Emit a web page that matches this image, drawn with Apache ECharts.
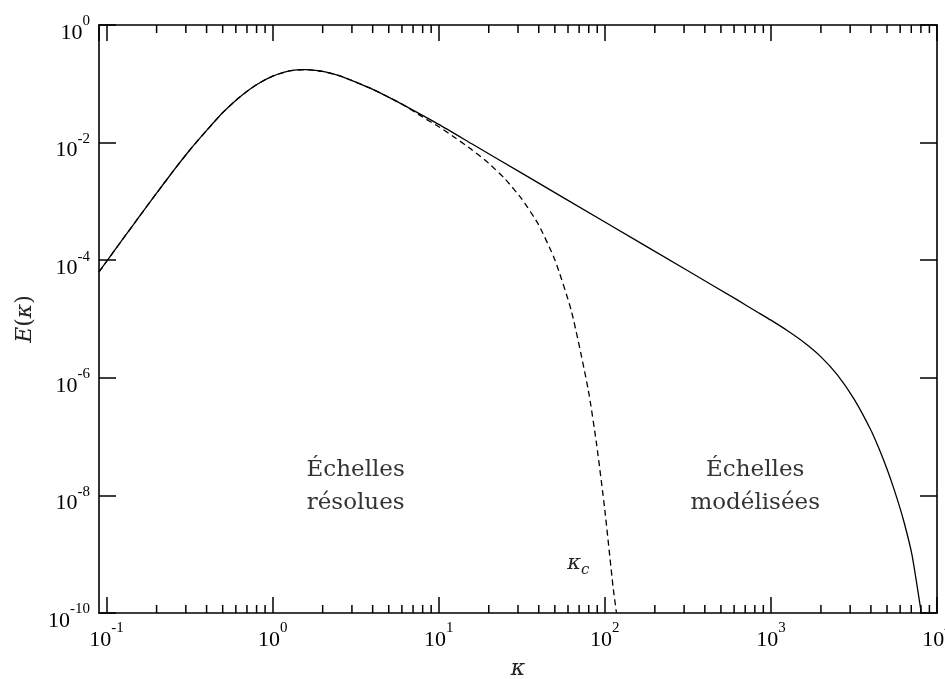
<!DOCTYPE html>
<html><head><meta charset="utf-8">
<script src="https://cdn.jsdelivr.net/npm/echarts@6/dist/echarts.min.js"></script>
<style>html,body{margin:0;padding:0;background:#fff}#c{width:945px;height:679px}</style>
</head><body><div id="c"></div>
<script>
// Solid curve: full spectrum E(kappa)
const kSolid = [0.09, 0.1, 0.126, 0.158, 0.2, 0.251, 0.316, 0.398, 0.501, 0.631, 0.794, 1, 1.26, 1.58, 2.0, 2.51, 3.16, 3.98, 5.01, 6.31, 10, 15.8, 31.6, 100, 316, 631, 794, 1000, 1259, 1585, 1995, 2512, 3162, 3981, 4467, 5012, 5623, 6310, 7079, 7943, 8035];
const eSolid = [6.31e-5, 9.55e-5, 2.34e-4, 5.62e-4, 1.38e-3, 3.24e-3, 7.41e-3, 1.58e-2, 3.24e-2, 5.89e-2, 9.55e-2, 0.135, 0.166, 0.174, 0.162, 0.138, 0.107, 8.13e-2, 5.89e-2, 4.17e-2, 2.04e-2, 9.55e-3, 3.02e-3, 4.47e-4, 6.61e-5, 2.09e-5, 1.41e-5, 9.55e-6, 6.31e-6, 3.98e-6, 2.29e-6, 1.12e-6, 4.37e-7, 1.32e-7, 6.31e-8, 2.75e-8, 1.07e-8, 3.63e-9, 9.55e-10, 1.26e-10, 1.0e-10];
// Dashed curve: resolved (filtered) spectrum
const kDashed = [0.09, 0.1, 0.126, 0.158, 0.2, 0.251, 0.316, 0.398, 0.501, 0.631, 0.794, 1, 1.26, 1.58, 2.0, 2.51, 3.16, 3.98, 5.01, 6.31, 7.94, 10, 12.6, 15.8, 19.95, 25.1, 31.6, 39.8, 50.1, 63.1, 79.4, 89.1, 100, 112, 117.5];
const eDashed = [6.31e-5, 9.55e-5, 2.34e-4, 5.62e-4, 1.38e-3, 3.24e-3, 7.41e-3, 1.58e-2, 3.24e-2, 5.89e-2, 9.55e-2, 0.135, 0.166, 0.174, 0.162, 0.138, 0.107, 8.13e-2, 5.89e-2, 4.17e-2, 2.75e-2, 1.86e-2, 1.20e-2, 7.59e-3, 4.47e-3, 2.40e-3, 1.10e-3, 4.07e-4, 1.0e-4, 1.32e-5, 6.31e-7, 7.59e-8, 5.62e-9, 2.82e-10, 1.0e-10];
// Axis ranges and tick labels
const xRange = [0.09, 10000];
const yRange = [1e-10, 1];
const xTickExponents = [-1, 0, 1, 2, 3, 4];
const yTickExponents = [0, -2, -4, -6, -8, -10];
const minorTickK = [];
for (const d of [0.1, 1, 10, 100, 1000]) for (let m = 2; m <= 9; m++) minorTickK.push(+(d * m).toPrecision(3));
// Annotations
const annoText = ['Échelles\nrésolues', 'Échelles\nmodélisées'];
const annoK = [3.16, 804];
const annoE = [1.41e-8, 1.41e-8];
const kcK = 69.2, kcE = 6.5e-10;

function powLabel(v) {
  const l = Math.log10(v), e = Math.round(l);
  if (Math.abs(l - e) > 1e-6) return '';
  if (xTickExponents.indexOf(e) < 0 && yTickExponents.indexOf(e) < 0) return '';
  return '{b|10}{s|' + e + '}';
}
const labelRich = {
  b: {fontFamily: 'Liberation Serif', fontSize: 22, color: '#000', lineHeight: 30, verticalAlign: 'bottom'},
  s: {fontFamily: 'Liberation Serif', fontSize: 15, color: '#000', lineHeight: 14, verticalAlign: 'top'}
};
const axisLineStyle = {color: '#000', width: 1.6};

const chart = echarts.init(document.getElementById('c'), null, {renderer: 'canvas'});
const option = {
  animation: false,
  backgroundColor: '#fff',
  grid: {left: 99, right: 8, top: 25, bottom: 66, containLabel: false, outerBoundsMode: 'none'},
  xAxis: [
    {type: 'log', logBase: 10, min: xRange[0], max: xRange[1], position: 'bottom',
     axisLine: {show: true, lineStyle: axisLineStyle},
     axisTick: {show: true, inside: true, length: 16, lineStyle: {color: '#000', width: 1.5}},
     axisLabel: {show: true, margin: 8, formatter: powLabel, rich: labelRich, showMinLabel: false, hideOverlap: false},
     splitLine: {show: false}, minorTick: {show: false},
     name: '{i|κ}', nameLocation: 'middle', nameGap: 45,
     nameTextStyle: {rich: {i: {fontFamily: 'DejaVu Serif', fontStyle: 'italic', fontSize: 22, color: '#222'}}}},
    {type: 'log', logBase: 10, min: xRange[0], max: xRange[1], position: 'top',
     axisLine: {show: true, lineStyle: axisLineStyle},
     axisTick: {show: true, inside: true, length: 16, lineStyle: {color: '#000', width: 1.5}},
     axisLabel: {show: false}, splitLine: {show: false}}
  ],
  yAxis: [
    {type: 'log', logBase: 10, min: yRange[0], max: yRange[1], interval: 2, position: 'left',
     axisLine: {show: true, lineStyle: axisLineStyle},
     axisTick: {show: true, inside: true, length: 17, lineStyle: {color: '#000', width: 1.5}},
     axisLabel: {show: true, margin: 9, formatter: powLabel, rich: labelRich, padding: [8, 0, 0, 0]},
     splitLine: {show: false},
     name: '{i|E}{n|(}{i|κ}{n|)}', nameLocation: 'middle', nameGap: 63, nameRotate: 90,
     nameTextStyle: {rich: {
       i: {fontFamily: 'DejaVu Serif', fontStyle: 'italic', fontSize: 22, color: '#222'},
       n: {fontFamily: 'DejaVu Serif', fontSize: 22, color: '#222'}}}},
    {type: 'log', logBase: 10, min: yRange[0], max: yRange[1], interval: 2, position: 'right',
     axisLine: {show: true, lineStyle: axisLineStyle},
     axisTick: {show: true, inside: true, length: 17, lineStyle: {color: '#000', width: 1.5}},
     axisLabel: {show: false}, splitLine: {show: false}}
  ],
  series: [
    {name: 'E', type: 'line', xAxisIndex: 0, yAxisIndex: 0, showSymbol: false, smooth: 0.2,
     data: kSolid.map((k, i) => [k, eSolid[i]]),
     lineStyle: {color: '#000', width: 1.3}, z: 3},
    {name: 'E resolved', type: 'line', xAxisIndex: 0, yAxisIndex: 0, showSymbol: false, smooth: 0.2,
     data: kDashed.map((k, i) => [k, eDashed[i]]),
     lineStyle: {color: '#000', width: 1.3, type: [6, 4]}, z: 4},
    {name: 'minor ticks', type: 'custom', xAxisIndex: 0, yAxisIndex: 0, silent: true,
     data: minorTickK.map(k => [k, yRange[0]]),
     renderItem: function (params, api) {
       const k = api.value(0);
       const pb = api.coord([k, yRange[0]]);
       const pt = api.coord([k, yRange[1]]);
       const st = {stroke: '#000', lineWidth: 1.5};
       return {type: 'group', children: [
         {type: 'line', shape: {x1: pb[0], y1: pb[1], x2: pb[0], y2: pb[1] - 8}, style: st},
         {type: 'line', shape: {x1: pt[0], y1: pt[1], x2: pt[0], y2: pt[1] + 8}, style: st}
       ]};
     }, z: 5},
    {name: 'annotations', type: 'scatter', xAxisIndex: 0, yAxisIndex: 0, symbolSize: 0, silent: true,
     itemStyle: {opacity: 1},
     data: annoText.map((t, i) => ({value: [annoK[i], annoE[i]], name: t})),
     label: {show: true, position: 'inside', formatter: p => p.name, opacity: 1,
       fontFamily: 'DejaVu Serif', fontSize: 23, lineHeight: 33, color: '#333', align: 'center'}},
    {name: 'kc', type: 'scatter', xAxisIndex: 0, yAxisIndex: 0, symbolSize: 0, silent: true,
     itemStyle: {opacity: 1},
     data: [[kcK, kcE]],
     label: {show: true, position: 'inside', formatter: '{k|κ}{c|c}', opacity: 1,
       rich: {
         k: {fontFamily: 'DejaVu Serif', fontStyle: 'italic', fontSize: 21, color: '#222', lineHeight: 20, verticalAlign: 'top'},
         c: {fontFamily: 'DejaVu Serif', fontStyle: 'italic', fontSize: 15, color: '#222', lineHeight: 25, verticalAlign: 'bottom'}
       }}}
  ]
};
chart.setOption(option);
</script></body></html>
